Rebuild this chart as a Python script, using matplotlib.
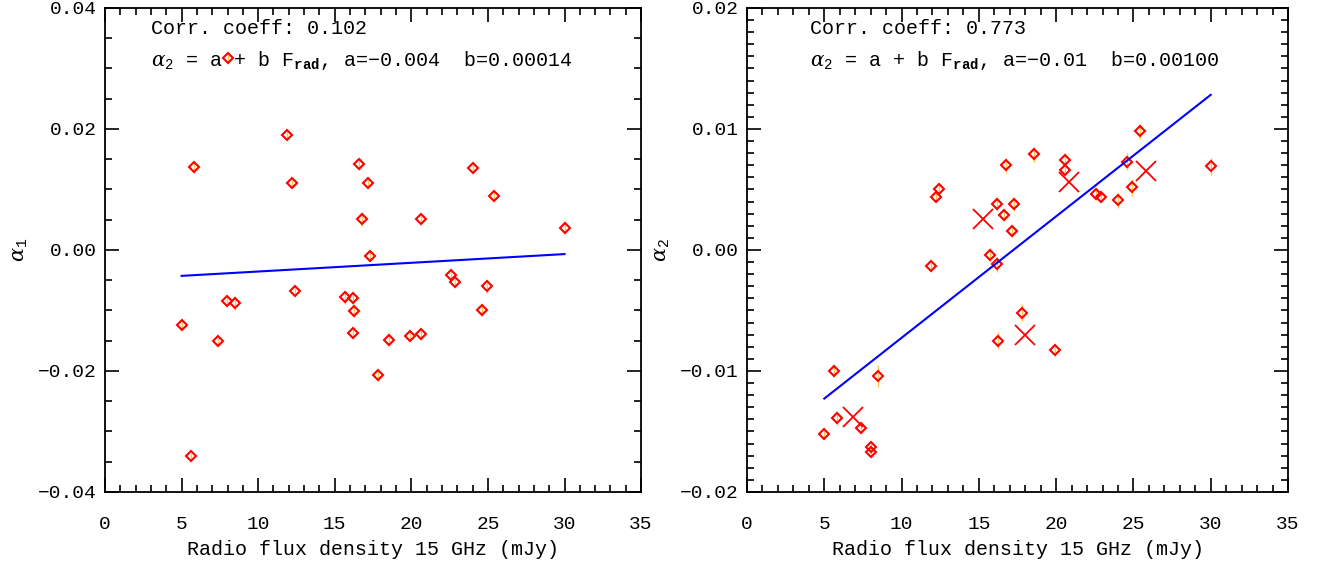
import numpy as np
import matplotlib
matplotlib.use('Agg')
import matplotlib.pyplot as plt
from matplotlib.ticker import MultipleLocator, FuncFormatter

plt.rcParams['font.family'] = ['Liberation Mono', 'DejaVu Serif']
plt.rcParams['mathtext.fontset'] = 'custom'
plt.rcParams['mathtext.rm'] = 'Liberation Mono'
plt.rcParams['mathtext.it'] = 'DejaVu Serif:italic'
plt.rcParams['mathtext.bf'] = 'Liberation Mono:bold'

# radio flux density, 15 GHz (mJy)
flux = [5.0, 5.6, 5.83, 7.39, 7.99, 8.0, 8.46, 11.9, 12.21, 12.39,
        15.69, 16.16, 16.2, 16.27, 16.6, 16.76, 17.17, 17.3, 17.8, 18.55,
        19.93, 20.6, 20.6, 22.57, 22.88, 24.0, 24.6, 24.93, 25.42, 30.0]
# alpha_1 (left panel)
alpha1 = [-0.0124, -0.0341, 0.0137, -0.0151, -0.0085, 0.0317, -0.0088, 0.0190, 0.0110, -0.0068,
          -0.0078, -0.0138, -0.0080, -0.0101, 0.0142, 0.0051, 0.0110, -0.0010, -0.0207, -0.0148,
          -0.0142, -0.0139, 0.0051, -0.0041, -0.0053, 0.0136, -0.0099, -0.0060, 0.0090, 0.0037]
alpha1_err = [0.0007, 0.0006, 0.0009, 0.0006, 0.0007, 0.0006, 0.0012, 0.0006, 0.0006, 0.0008,
              0.0011, 0.0009, 0.0011, 0.0010, 0.0009, 0.0011, 0.0007, 0.0008, 0.0010, 0.0010,
              0.0007, 0.0009, 0.0009, 0.0006, 0.0007, 0.0009, 0.0010, 0.0011, 0.0008, 0.0011]
# alpha_2 (right panel)
alpha2 = [-0.0152, -0.0100, -0.0139, -0.0147, -0.0163, -0.0167, -0.0104, -0.0013, 0.0044, 0.0050,
          -0.0004, -0.0012, 0.0038, -0.0075, 0.0029, 0.0070, 0.0016, 0.0038, -0.0052, 0.0079,
          -0.0083, 0.0074, 0.0066, 0.0046, 0.0044, 0.0041, 0.0073, 0.0052, 0.0098, 0.0069]
alpha2_err = [0.0004, 0.0005, 0.0006, 0.0004, 0.0004, 0.0004, 0.0009, 0.0004, 0.0004, 0.0005,
              0.0006, 0.0006, 0.0006, 0.0007, 0.0005, 0.0006, 0.0005, 0.0006, 0.0007, 0.0006,
              0.0005, 0.0006, 0.0005, 0.0005, 0.0004, 0.0006, 0.0007, 0.0007, 0.0006, 0.0007]
# crosses in the right panel
cross_flux = [6.85, 15.25, 18.0, 20.8, 25.8]
cross_alpha2 = [-0.0138, 0.0026, -0.0070, 0.0056, 0.0065]

# drawn fit lines (intercept, slope) and range
fit1 = (-0.0050, 0.000144)
fit2 = (-0.0173, 0.001004)
fit_x = [5.0, 30.0]

corr = ['0.102', '0.773']
fit_txt = [r'$\alpha_2$ = a + b F$_{\bf rad}$, a=$-$0.004  b=0.00014',
           r'$\alpha_2$ = a + b F$_{\bf rad}$, a=$-$0.01  b=0.00100']
text_x = [0.085, 0.116]

fig = plt.figure(figsize=(13.21, 5.62), dpi=100)
ax1 = fig.add_axes([0.0795, 0.1246, 0.4058, 0.8612])
ax2 = fig.add_axes([0.5655, 0.1246, 0.4095, 0.8612])

fmt = FuncFormatter(lambda v, p: ('%.2f' % v).replace('-', '\u2212'))

panels = [(ax1, alpha1, alpha1_err, fit1, 0.04, 0.02, 0.005, r'$\alpha_1$'),
          (ax2, alpha2, alpha2_err, fit2, 0.02, 0.01, 0.001, r'$\alpha_2$')]

for i, (ax, yv, ye, fit, lim, maj, mnr, ylab) in enumerate(panels):
    ax.errorbar(flux, yv, yerr=ye, fmt='none', ecolor='#ffc34d', elinewidth=1.0, zorder=2)
    ax.plot(flux, yv, 'D', ms=5, mfc='none', mec='red', mew=1.5, zorder=3)
    fx = np.array(fit_x)
    ax.plot(fx, fit[0] + fit[1] * fx, color='blue', lw=1.5, zorder=4)
    ax.set_xlim(0, 35)
    ax.set_ylim(-lim, lim)
    ax.xaxis.set_major_locator(MultipleLocator(5))
    ax.xaxis.set_minor_locator(MultipleLocator(1))
    ax.yaxis.set_major_locator(MultipleLocator(maj))
    ax.yaxis.set_minor_locator(MultipleLocator(mnr))
    ax.yaxis.set_major_formatter(fmt)
    ax.tick_params(which='both', direction='in', top=True, right=True, labelsize=14, width=1.2)
    ax.tick_params(which='major', length=10, pad=6)
    ax.tick_params(axis='x', which='major', pad=17)
    ax.tick_params(which='minor', length=5)
    for s in ax.spines.values():
        s.set_linewidth(1.3)
    ax.set_xlabel('Radio flux density 15 GHz (mJy)', fontsize=14.4, labelpad=5)
    ax.set_ylabel(ylab, fontsize=15, labelpad=6)
    ax.text(text_x[i], 0.947, 'Corr. coeff: ' + corr[i], transform=ax.transAxes, fontsize=14.4)
    ax.text(text_x[i], 0.88, fit_txt[i], transform=ax.transAxes, fontsize=14.4)

ax2.plot(cross_flux, cross_alpha2, 'x', ms=14, mec='red', mew=1.3, zorder=5)

fig.savefig('out.png', dpi=100)
